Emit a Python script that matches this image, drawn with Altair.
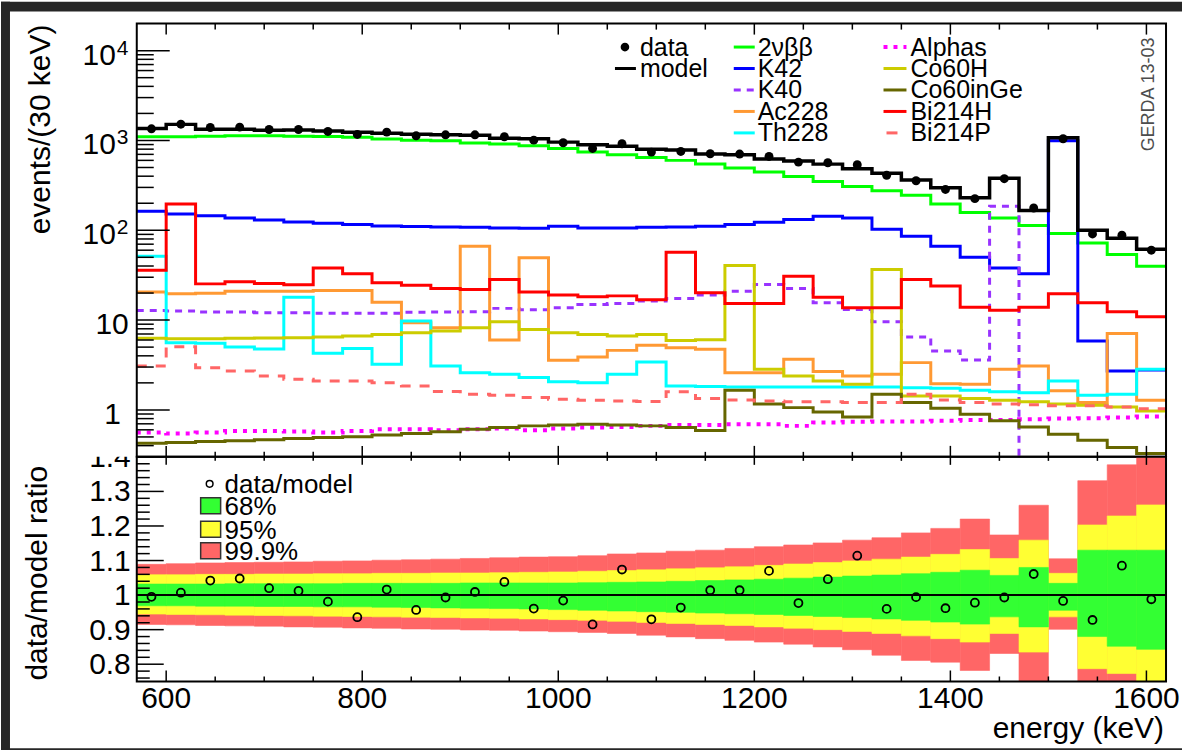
import altair as alt
import pandas as pd

# ---------------- binning: 30 keV bins, 570-1620 keV ----------------
bin_lo = list(range(570, 1620, 30))
bin_hi = list(range(600, 1650, 30))
bin_mid = list(range(585, 1620, 30))
edges = bin_lo + [1620]

# ---------------- upper panel: events per bin ----------------
data_counts = [1348, 1518, 1394, 1406, 1325, 1325, 1259, 1166, 1238, 1127,
               1156, 1156, 1099, 1008, 942, 815, 919, 742, 754, 711,
               705, 664, 574, 565, 537, 409, 356, 285, 225, 375,
               177, 1044, 91, 88, 60]
model_total = [1359, 1510, 1330, 1335, 1300, 1305, 1275, 1235, 1205, 1175,
               1160, 1140, 1060, 1045, 958, 898, 862, 800, 785, 708,
               695, 622, 590, 545, 483, 432, 362, 298, 230, 380,
               166, 1070, 100, 81.5, 61.5]
c_2nbb = [1099, 1099, 1117, 1127, 1127, 1117, 1107, 1088, 1035, 1008,
          991, 934, 911, 873, 815, 742, 693, 647, 600, 546,
          493, 445, 398, 350, 308, 276, 245, 196, 158, 137,
          113, 91.8, 72.3, 53.7, 39.8]
c_k42 = [162.6, 151.8, 145.5, 137.1, 130.2, 123.8, 119.6, 115.6, 111.7, 109.8,
         108.9, 108.0, 106.2, 105.3, 110.8, 106.2, 106.2, 108.0, 108.9, 110.8,
         115.6, 122.7, 131.4, 143.2, 137.1, 102.6, 85.8, 66.4, 50.1, 38.1,
         32.7, 991, 5.84, 2.71, 2.78]
c_k40 = [12.8, 12.6, 12.3, 12.3, 12.1, 12.1, 11.9, 11.9, 11.9, 12.2,
         12.3, 12.4, 13.5, 13.0, 13.7, 14.9, 15.3, 16.3, 17.4, 19.0,
         21.0, 24.9, 22.5, 15.6, 13.1, 9.58, 6.47, 4.52, 3.59, 185,
         0.01, 0.01, 0.01, 0.01, 0.01]
c_ac228 = [20.5, 19.6, 19.9, 21.0, 21.0, 21.0, 21.4, 21.4, 15.8, 9.34,
           8.22, 66.4, 6.0, 49.3, 3.56, 3.88, 4.60, 5.23, 4.93, 4.72,
           2.60, 2.60, 3.66, 2.67, 2.39, 2.49, 3.36, 1.96, 1.93, 2.83,
           3.08, 1.63, 1.21, 7.11, 1.28]
c_th228 = [51.4, 5.60, 5.51, 5.01, 4.76, 18.0, 4.26, 4.84, 3.22, 9.75,
           3.08, 2.60, 2.49, 2.29, 2.06, 2.00, 2.49, 3.41, 1.85, 1.82,
           1.80, 1.80, 1.80, 1.80, 1.80, 1.80, 1.77, 1.74, 1.65, 1.59,
           1.55, 2.10, 1.46, 1.49, 2.83]
c_alphas = [0.560, 0.546, 0.560, 0.584, 0.584, 0.574, 0.560, 0.584, 0.610, 0.610,
            0.594, 0.610, 0.621, 0.594, 0.621, 0.637, 0.647, 0.664, 0.681, 0.681,
            0.693, 0.693, 0.664, 0.723, 0.736, 0.742, 0.742, 0.755, 0.774, 0.774,
            0.788, 0.801, 0.808, 0.822, 0.843]
c_co60h = [6.26, 6.20, 6.20, 6.26, 6.31, 6.36, 6.47, 6.64, 6.93, 7.23,
           7.55, 8.22, 9.58, 7.87, 7.23, 6.93, 6.64, 6.93, 5.94, 6.04,
           40.5, 2.83, 2.39, 2.10, 1.93, 36.5, 1.43, 1.43, 1.34, 1.28,
           1.23, 1.16, 1.13, 1.08, 0.975]
c_co60inge = [0.426, 0.434, 0.445, 0.453, 0.465, 0.480, 0.493, 0.501, 0.527, 0.546,
              0.570, 0.610, 0.637, 0.664, 0.681, 0.693, 0.681, 0.664, 0.637, 0.590,
              1.65, 1.16, 1.06, 0.950, 0.836, 1.49, 1.21, 1.04, 0.895, 0.755,
              0.647, 0.537, 0.460, 0.381, 0.327]
c_bi214h = [35.9, 196, 25.3, 26.7, 25.5, 24.7, 38.1, 32.7, 26.0, 24.5,
            22.5, 21.9, 28.3, 20.5, 19.0, 18.2, 18.6, 16.8, 57.0, 20.1,
            15.3, 15.3, 30.8, 18.0, 13.7, 13.7, 28.3, 23.9, 13.9, 12.9,
            13.9, 19.6, 15.6, 12.4, 10.9]
c_bi214p = [3.08, 5.06, 2.95, 2.71, 2.39, 2.19, 2.10, 2.10, 2.00, 1.85,
            1.60, 1.49, 1.46, 1.37, 1.31, 1.28, 1.26, 1.24, 1.59, 1.34,
            1.29, 1.26, 1.23, 1.23, 1.21, 1.21, 1.49, 1.29, 1.21, 1.16,
            1.14, 1.11, 1.11, 1.08, 1.03]

# ---------------- lower panel: data/model ratio and bands ----------------
ratio = [0.995, 1.007, 1.042, 1.048, 1.020, 1.012, 0.981, 0.936, 1.016, 0.957,
         0.993, 1.009, 1.038, 0.961, 0.984, 0.915, 1.074, 0.930, 0.964, 1.014,
         1.014, 1.070, 0.977, 1.046, 1.114, 0.960, 0.994, 0.962, 0.978, 0.993,
         1.061, 0.983, 0.928, 1.085, 0.988]
band999_hi = [1.089, 1.091, 1.093, 1.094, 1.095, 1.096, 1.098, 1.099, 1.101, 1.102,
              1.104, 1.106, 1.108, 1.110, 1.111, 1.114, 1.119, 1.122, 1.127, 1.130,
              1.135, 1.140, 1.145, 1.151, 1.159, 1.166, 1.180, 1.193, 1.220, 1.174,
              1.260, 1.105, 1.331, 1.377, 1.450]
band95_hi = [1.059, 1.059, 1.060, 1.060, 1.061, 1.061, 1.062, 1.062, 1.063, 1.063,
             1.064, 1.064, 1.065, 1.066, 1.067, 1.069, 1.071, 1.073, 1.076, 1.079,
             1.082, 1.086, 1.090, 1.094, 1.099, 1.104, 1.110, 1.118, 1.132, 1.106,
             1.159, 1.063, 1.203, 1.229, 1.261]
band68_hi = [1.032, 1.032, 1.032, 1.033, 1.033, 1.033, 1.033, 1.034, 1.034, 1.034,
             1.034, 1.035, 1.035, 1.035, 1.035, 1.036, 1.037, 1.038, 1.040, 1.042,
             1.044, 1.046, 1.049, 1.052, 1.055, 1.058, 1.062, 1.066, 1.072, 1.057,
             1.080, 1.034, 1.130, 1.130, 1.130]
band68_lo = [0.969, 0.969, 0.968, 0.968, 0.967, 0.967, 0.966, 0.966, 0.965, 0.964,
             0.963, 0.962, 0.961, 0.960, 0.958, 0.956, 0.954, 0.952, 0.950, 0.948,
             0.946, 0.944, 0.941, 0.938, 0.935, 0.931, 0.927, 0.922, 0.916, 0.937,
             0.908, 0.956, 0.880, 0.852, 0.843]
band95_lo = [0.945, 0.944, 0.943, 0.942, 0.941, 0.940, 0.939, 0.938, 0.937, 0.936,
             0.935, 0.934, 0.933, 0.931, 0.929, 0.927, 0.924, 0.921, 0.918, 0.915,
             0.912, 0.908, 0.904, 0.900, 0.895, 0.889, 0.882, 0.874, 0.864, 0.889,
             0.835, 0.937, 0.787, 0.773, 0.700]
band999_lo = [0.915, 0.914, 0.912, 0.911, 0.910, 0.908, 0.907, 0.905, 0.904, 0.902,
              0.901, 0.899, 0.898, 0.896, 0.894, 0.892, 0.889, 0.884, 0.879, 0.874,
              0.869, 0.864, 0.858, 0.850, 0.842, 0.826, 0.811, 0.806, 0.782, 0.831,
              0.700, 0.901, 0.700, 0.700, 0.700]

# ---------------- tick positions and labels ----------------
x_major = [600, 800, 1000, 1200, 1400, 1600]
x_minor = [e for e in range(600, 1601, 50) if e not in x_major]
x_labels = ["600", "800", "1000", "1200", "1400", "1600"]
top_major = [1, 10, 100, 1000, 10000]
top_minor = [m * 10 ** p for p in range(-1, 5) for m in range(2, 10)
             if 0.3 <= m * 10 ** p < 20000]
bot_major = [0.8, 0.9, 1.0, 1.1, 1.2, 1.3, 1.4]
bot_labels = ["0.8", "0.9", "1", "1.1", "1.2", "1.3", "1.4"]
bot_minor = [round(0.76 + 0.02 * i, 2) for i in range(33)]
bot_minor = [v for v in bot_minor if all(abs(v - m) > 1e-6 for m in bot_major)]

# component name, values, colour, dash pattern, line width
components = [
    ("2νββ", c_2nbb, "#00ff00", None, 3),
    ("K42", c_k42, "#0000ff", None, 3),
    ("K40", c_k40, "#9933ff", [7, 6], 3),
    ("Ac228", c_ac228, "#ff9933", None, 3),
    ("Th228", c_th228, "#00ffff", None, 3),
    ("Alphas", c_alphas, "#ff00ff", [4, 6], 4),
    ("Co60H", c_co60h, "#cccc00", None, 3),
    ("Co60inGe", c_co60inge, "#666600", None, 3),
    ("Bi214H", c_bi214h, "#ff0000", None, 3),
    ("Bi214P", c_bi214p, "#ff6666", [10, 9], 3),
]

FONT = "Liberation Sans"
DARK = "#262626"
W, H_TOP, H_BOT = 1031, 434, 225
ONE = pd.DataFrame({"_": [0]})

xs = alt.Scale(domain=[570, 1620], nice=False, zero=False)
ys_top = alt.Scale(type="log", domain=[0.3, 20000], nice=False)
ys_bot = alt.Scale(domain=[0.75, 1.40], nice=False, zero=False)


def text_at(text, x, y, size, **kw):
    return alt.Chart(ONE).mark_text(text=text, font=FONT, fontSize=size, **kw).encode(
        x=alt.value(x), y=alt.value(y))


def rule_at(x1, x2, y1, y2, color="black", width=1.5, dash=None):
    kw = dict(color=color, strokeWidth=width)
    if dash:
        kw["strokeDash"] = dash
    return alt.Chart(ONE).mark_rule(**kw).encode(
        x=alt.value(x1), x2=alt.value(x2), y=alt.value(y1), y2=alt.value(y2))


def rect_at(x1, x2, y1, y2, **kw):
    return alt.Chart(ONE).mark_rect(**kw).encode(
        x=alt.value(x1), x2=alt.value(x2), y=alt.value(y1), y2=alt.value(y2))


def step_hist(vals, color, width=3, dash=None):
    df = pd.DataFrame({"E": edges, "v": list(vals) + [vals[-1]]})
    kw = dict(interpolate="step-after", color=color, strokeWidth=width,
              clip=True, strokeJoin="miter")
    if dash:
        kw["strokeDash"] = dash
    return alt.Chart(df).mark_line(**kw).encode(
        x=alt.X("E:Q", scale=xs, axis=None),
        y=alt.Y("v:Q", scale=ys_top, axis=None))


def x_ticks(vals, y1, y2):
    return alt.Chart(pd.DataFrame({"E": vals})).mark_rule(color="black", strokeWidth=1.5).encode(
        x=alt.X("E:Q", scale=xs, axis=None), y=alt.value(y1), y2=alt.value(y2))


def y_ticks(vals, scale, length):
    return alt.Chart(pd.DataFrame({"v": vals})).mark_rule(color="black", strokeWidth=1.5).encode(
        y=alt.Y("v:Q", scale=scale, axis=None), x=alt.value(0), x2=alt.value(length))


# ================= upper panel =================
# dark margin strips around the white canvas
top_layers = [
    rect_at(-136, -127, -22, 728, color=DARK),
    rect_at(-136, 1047, -22, -12, color=DARK),
    rect_at(-136, 1047, 726, 728, color=DARK),
]
for name, vals, col, dash, lw in components:
    top_layers.append(step_hist(vals, col, lw, dash))
top_layers.append(step_hist(model_total, "black", 3.5))
top_layers.append(
    alt.Chart(pd.DataFrame({"E": bin_mid, "n": data_counts})).mark_circle(
        size=80, color="black", opacity=1, clip=True).encode(
        x=alt.X("E:Q", scale=xs, axis=None), y=alt.Y("n:Q", scale=ys_top, axis=None)))
top_layers.append(rect_at(0, W, 0, H_TOP, fillOpacity=0, stroke="black", strokeWidth=2))

# ticks (pointing inwards)
top_layers += [
    y_ticks(top_major, ys_top, 33), y_ticks(top_minor, ys_top, 17),
    x_ticks(x_major, 0, 11), x_ticks(x_minor, 0, 6),
    x_ticks(x_major, H_TOP, H_TOP - 11), x_ticks(x_minor, H_TOP, H_TOP - 5),
]

# y tick labels with powers of ten
pow_df = pd.DataFrame({"v": [10000, 1000, 100], "e": ["4", "3", "2"]})
top_layers.append(alt.Chart(pow_df).mark_text(
    text="10", font=FONT, fontSize=30, align="right", baseline="alphabetic", dy=14).encode(
    y=alt.Y("v:Q", scale=ys_top, axis=None), x=alt.value(-21)))
top_layers.append(alt.Chart(pow_df).mark_text(
    font=FONT, fontSize=21, align="left", baseline="alphabetic", dy=4).encode(
    y=alt.Y("v:Q", scale=ys_top, axis=None), x=alt.value(-20), text="e:N"))
top_layers.append(alt.Chart(pd.DataFrame({"v": [10]})).mark_text(
    text="10", font=FONT, fontSize=30, align="right", baseline="alphabetic", dy=14).encode(
    y=alt.Y("v:Q", scale=ys_top, axis=None), x=alt.value(-8)))
top_layers.append(alt.Chart(pd.DataFrame({"v": [1]})).mark_text(
    text="1", font=FONT, fontSize=30, align="right", baseline="alphabetic", dy=14).encode(
    y=alt.Y("v:Q", scale=ys_top, axis=None), x=alt.value(-16)))

top_layers.append(text_at("events/(30 keV)", -87, 1, 30, angle=270, align="right",
                          baseline="alphabetic"))
top_layers.append(text_at("GERDA 13-03", 1014, 71, 18, angle=270, align="center",
                          baseline="middle", color="#4d4d4d"))

# legend
row_base = [32, 53.5, 75, 96.5, 118]
LEG = 25
top_layers.append(alt.Chart(ONE).mark_circle(size=75, color="black", opacity=1).encode(
    x=alt.value(489), y=alt.value(row_base[0] - 8.5)))
top_layers.append(text_at("data", 504, row_base[0], LEG, align="left", baseline="alphabetic"))
top_layers.append(rule_at(479, 500, row_base[1] - 8.5, row_base[1] - 8.5, width=3))
top_layers.append(text_at("model", 504, row_base[1], LEG, align="left", baseline="alphabetic"))
for i, (name, vals, col, dash, lw) in enumerate(components):
    column, row = divmod(i, 5)
    lx1, lx2, tx = (598, 619, 622) if column == 0 else (748, 771, 775)
    ly = row_base[row] - 8.5
    if name == "Bi214P":
        top_layers.append(rule_at(751, 762, ly, ly, color=col, width=3))
    else:
        top_layers.append(rule_at(lx1, lx2, ly, ly, color=col, width=lw, dash=dash))
    top_layers.append(text_at(name, tx, row_base[row], LEG, align="left", baseline="alphabetic"))

top = alt.layer(*top_layers).properties(width=W, height=H_TOP)

# ================= lower panel =================
band_df = pd.DataFrame({
    "lo": bin_lo, "hi": bin_hi,
    "r1": band999_lo, "r2": band999_hi,
    "y1": band95_lo, "y2": band95_hi,
    "g1": band68_lo, "g2": band68_hi,
})


def band(lo, hi, col):
    return alt.Chart(band_df).mark_rect(color=col, stroke=col, strokeWidth=0.6, clip=True).encode(
        x=alt.X("lo:Q", scale=xs, axis=None), x2="hi:Q",
        y=alt.Y(f"{lo}:Q", scale=ys_bot, axis=None), y2=f"{hi}:Q")


bot_layers = [
    band("r1", "r2", "#ff6666"),
    band("y1", "y2", "#ffff33"),
    band("g1", "g2", "#33ff33"),
    alt.Chart(pd.DataFrame({"r": [1.0]})).mark_rule(color="black", strokeWidth=2).encode(
        y=alt.Y("r:Q", scale=ys_bot, axis=None), x=alt.value(0), x2=alt.value(W)),
    alt.Chart(pd.DataFrame({"E": bin_mid, "q": ratio})).mark_point(
        shape="circle", filled=False, color="black", strokeWidth=1.8, size=64,
        opacity=1, clip=True).encode(
        x=alt.X("E:Q", scale=xs, axis=None), y=alt.Y("q:Q", scale=ys_bot, axis=None)),
    rect_at(0, W, 0, H_BOT, fillOpacity=0, stroke="black", strokeWidth=2),
    y_ticks(bot_major, ys_bot, 27), y_ticks(bot_minor, ys_bot, 13),
    x_ticks(x_major, 0, 8), x_ticks(x_minor, 0, 4),
    x_ticks(x_major, H_BOT, H_BOT - 11), x_ticks(x_minor, H_BOT, H_BOT - 5),
    alt.Chart(pd.DataFrame({"r": bot_major, "t": bot_labels})).mark_text(
        font=FONT, fontSize=30, align="right", baseline="middle", dy=1).encode(
        y=alt.Y("r:Q", scale=ys_bot, axis=None), x=alt.value(-6), text="t:N"),
    # the top label runs into the upper panel and is cut at its edge
    rect_at(-100, -2, -22, 0, color="white"),
    alt.Chart(pd.DataFrame({"E": x_major, "t": x_labels})).mark_text(
        font=FONT, fontSize=30, align="center", baseline="alphabetic").encode(
        x=alt.X("E:Q", scale=xs, axis=None), y=alt.value(H_BOT + 27), text="t:N"),
    text_at("energy (keV)", W - 2, H_BOT + 57, 30, align="right", baseline="alphabetic"),
    text_at("data/model ratio", -90, 9, 30, angle=270, align="right", baseline="alphabetic"),
    # legend
    alt.Chart(ONE).mark_point(shape="circle", filled=False, color="black", strokeWidth=1.5,
                              size=45, opacity=1).encode(x=alt.value(73), y=alt.value(27)),
    text_at("data/model", 88, 36, 26, align="left", baseline="alphabetic"),
]
for (label, col), cy in zip([("68%", "#33ff33"), ("95%", "#ffff33"), ("99.9%", "#ff6666")],
                            [49, 72.5, 94]):
    bot_layers.append(rect_at(64, 84, cy - 8, cy + 8, color=col, stroke="#333333",
                              strokeWidth=1.5))
    bot_layers.append(text_at(label, 88, cy + 9.5, 26, align="left", baseline="alphabetic"))

bottom = alt.layer(*bot_layers).properties(width=W, height=H_BOT)

chart = alt.vconcat(top, bottom, spacing=0, bounds="flush").properties(
    padding={"left": 0, "top": 0, "right": 0, "bottom": 0},
    autosize=alt.AutoSizeParams(type="pad"),
    background="white",
).configure_view(stroke="transparent")

chart.save("out.html", embed_options={"renderer": "svg", "actions": False})
